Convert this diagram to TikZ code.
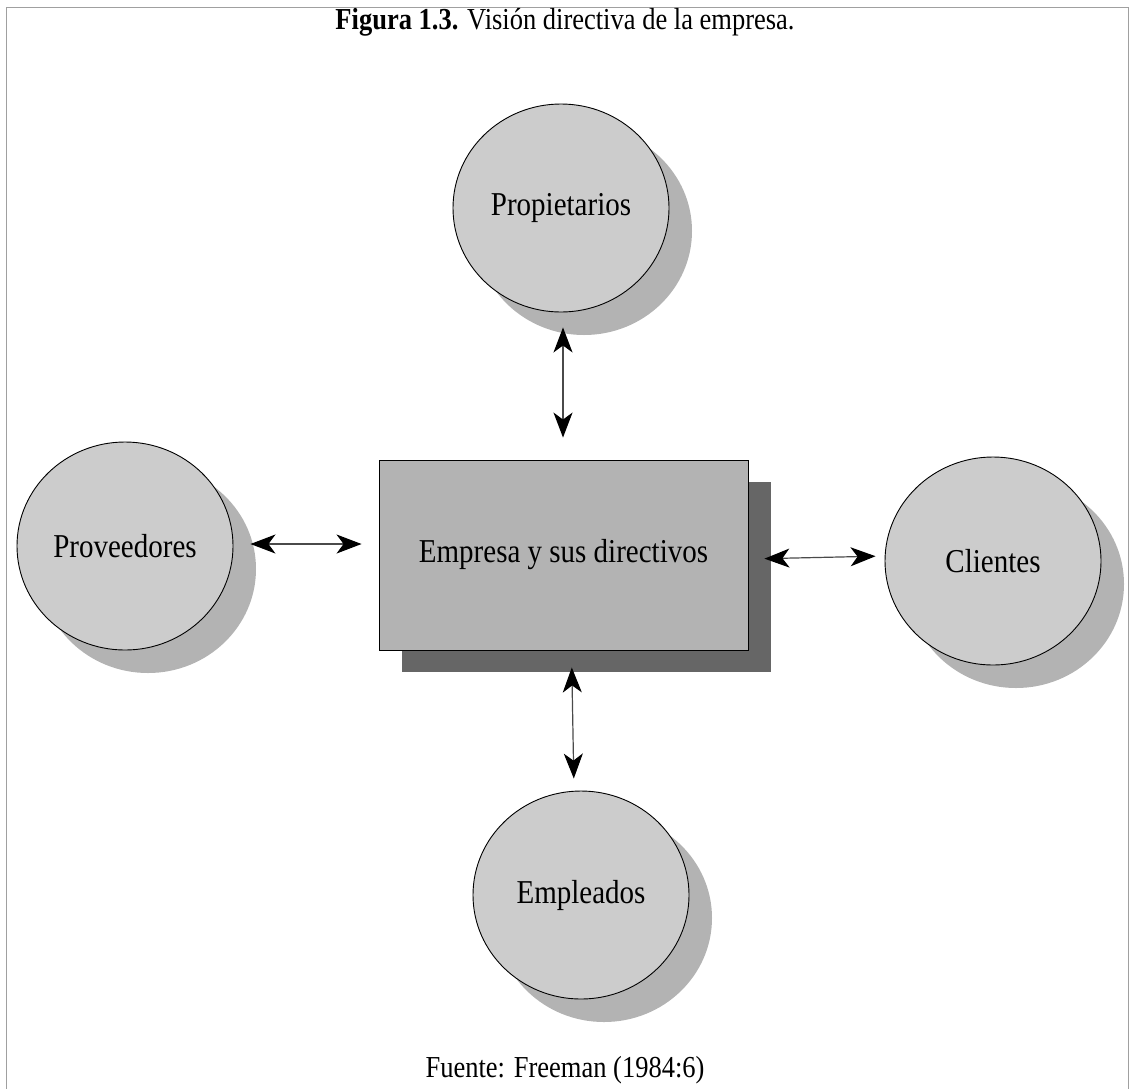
\documentclass[tikz,border=0pt]{standalone}
\usepackage{fontspec}
\setmainfont{Liberation Serif}
\usetikzlibrary{shapes.geometric,shadows,arrows.meta}

\definecolor{stakefill}{HTML}{CCCCCC}
\definecolor{stakeshade}{HTML}{B3B3B3}
\definecolor{firmfill}{HTML}{B3B3B3}
\definecolor{firmshade}{HTML}{666666}
\definecolor{framegray}{HTML}{A0A0A0}
\definecolor{linkgray}{HTML}{4A4A4A}

% text is set slightly taller than wide
\newcommand{\tall}[1]{\scalebox{1}[1.15]{#1}}

\tikzset{
  labelfont/.style={font=\fontsize{29}{34}\selectfont},
  captionfont/.style={font=\fontsize{26.5}{31}\selectfont},
  stakeholder/.style={ellipse, draw=black, line width=0.9pt, fill=stakefill,
    minimum width=216pt, minimum height=208pt, inner sep=0pt, labelfont,
    drop shadow={shadow xshift=23pt, shadow yshift=-23pt, fill=stakeshade, opacity=1}},
  firm/.style={rectangle, draw=black, line width=0.9pt, fill=firmfill,
    minimum width=369pt, minimum height=190pt, inner sep=0pt, labelfont,
    drop shadow={shadow xshift=23pt, shadow yshift=-22pt, fill=firmshade, opacity=1}},
  link/.style={draw=linkgray, line width=1.2pt,
    {Stealth[length=25pt,width=19pt,inset=7pt,color=black]}-{Stealth[length=25pt,width=19pt,inset=7pt,color=black]}}
}

\begin{document}
\begin{tikzpicture}[x=1pt,y=-1pt]
  \useasboundingbox (0,0) rectangle (1131,1088);

  % page frame
  \draw[framegray, line width=1pt] (6,1092) -- (6,7) -- (1128,7) -- (1128,1092);

  % caption and source
  \node[captionfont, anchor=base] (title) at (565,29)
    {\tall{\textbf{Figura 1.3.} Visión directiva de la empresa.}};
  \node[captionfont, anchor=base] (source) at (565,1077) {\tall{Fuente: Freeman (1984:6)}};

  % the firm and its stakeholders
  \node[firm] (firm) at (563.5,555) {\tall{Empresa y sus directivos}};
  \node[stakeholder] (prop) at (561,208) {\tall{Propietarios}};
  \node[stakeholder] (prov) at (125,546) {\tall{Proveedores}};
  \node[stakeholder] (cli)  at (993,561) {\tall{Clientes}};
  \node[stakeholder] (emp)  at (581,895) {\tall{Empleados}};

  % two-way relations
  \draw[link, shorten <=15pt, shorten >=22pt] ([xshift=2pt]prop.south) -- ([xshift=-0.5pt]firm.north);
  \draw[link, shorten <=17pt, shorten >=17pt] ([yshift=2pt]prov.east) -- ([yshift=2pt]prov.east -| firm.west);
  \draw[link, shorten <=16pt, shorten >=9pt] ([yshift=-4pt]firm.east) -- ([yshift=5pt]cli.west);
  \draw[link, shorten <=17pt, shorten >=12pt] ([xshift=8pt]firm.south) -- ([xshift=-7pt]emp.north);
\end{tikzpicture}
\end{document}
